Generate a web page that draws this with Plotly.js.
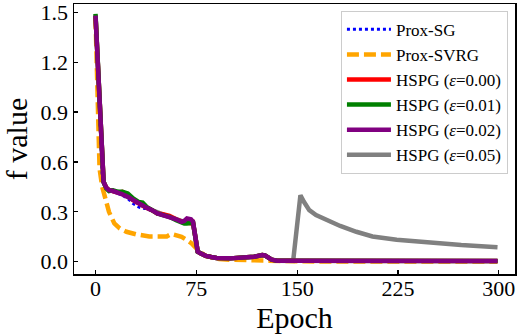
<!DOCTYPE html>
<html>
<head>
<meta charset="utf-8">
<script src="https://cdn.plot.ly/plotly-3.0.1.min.js"></script>
<style>html,body{margin:0;padding:0;background:#fff;}#chart{width:519px;height:335px;}</style>
</head>
<body>
<div id="chart"></div>
<script>
// Epochs at which values were read
var epochs = [0,5,6,8,10,13,17,20,24,28,32,35,38,42,46,50,55,60,64,66,68,71,72.5,76,78,82,86,90,100,110,118,124,126,131,135,147,200,250,299];

var proxSG   = [1.48,0.52,0.48,0.445,0.43,0.425,0.41,0.40,0.38,0.35,0.33,0.32,0.32,0.305,0.29,0.28,0.27,0.255,0.24,0.235,0.23,0.23,0.235,0.06,0.05,0.035,0.028,0.022,0.02,0.025,0.03,0.04,0.038,0.012,0.006,0.005,0.004,0.004,0.004];
var hspg000  = [1.48,0.52,0.48,0.445,0.43,0.425,0.415,0.42,0.40,0.37,0.35,0.34,0.325,0.31,0.29,0.285,0.275,0.255,0.24,0.235,0.235,0.23,0.235,0.06,0.05,0.035,0.028,0.022,0.02,0.025,0.03,0.04,0.038,0.012,0.006,0.005,0.004,0.004,0.004];
var hspg001  = [1.49,0.52,0.48,0.44,0.425,0.43,0.42,0.42,0.41,0.38,0.36,0.355,0.33,0.31,0.29,0.28,0.27,0.25,0.235,0.23,0.23,0.23,0.235,0.06,0.05,0.035,0.028,0.022,0.02,0.025,0.03,0.04,0.038,0.012,0.006,0.005,0.004,0.004,0.004];
var hspg002  = [1.48,0.52,0.48,0.445,0.43,0.425,0.415,0.405,0.39,0.37,0.35,0.34,0.325,0.31,0.29,0.28,0.27,0.255,0.24,0.245,0.26,0.255,0.24,0.06,0.05,0.035,0.028,0.022,0.02,0.025,0.03,0.04,0.038,0.012,0.006,0.005,0.004,0.004,0.004];

var svrgEpochs = [0,3,5,8,10,14,18,23,30,40,50,53,56.5,60,64,68,71.5,75,77.5,82,87,92,100,110,120,125,130,140,150,200,250,299];
var proxSVRG   = [1.47,0.56,0.45,0.36,0.30,0.23,0.20,0.18,0.165,0.152,0.148,0.152,0.167,0.16,0.15,0.13,0.11,0.08,0.06,0.035,0.022,0.016,0.012,0.01,0.009,0.008,0.004,0.002,0.002,0.001,0.001,0.001];

var grayEpochs = [0,5,6,8,10,13,17,20,24,28,32,35,38,42,46,50,55,60,64,66,68,71,72.5,76,78,82,86,90,100,110,118,124,126,131,135,147,152.4,155,159,164,169,182,194,206,224,247,272,299];
var hspg005    = [1.48,0.52,0.48,0.445,0.43,0.425,0.415,0.41,0.39,0.37,0.35,0.34,0.325,0.31,0.295,0.285,0.27,0.255,0.24,0.24,0.25,0.25,0.24,0.06,0.05,0.035,0.028,0.022,0.02,0.025,0.03,0.04,0.038,0.012,0.006,0.005,0.40,0.36,0.31,0.28,0.26,0.215,0.18,0.152,0.132,0.114,0.10,0.087];

var names = ['Prox-SG','Prox-SVRG','HSPG (<i>ε</i>=0.00)','HSPG (<i>ε</i>=0.01)','HSPG (<i>ε</i>=0.02)','HSPG (<i>ε</i>=0.05)'];

var traces = [
  {x: grayEpochs, y: hspg005, name: names[5], legendrank: 6, mode: 'lines', line: {color: '#808080', width: 4.5}},
  {x: svrgEpochs, y: proxSVRG, name: names[1], legendrank: 2, mode: 'lines', line: {color: '#FFA500', width: 4.5, dash: '12px,5px'}},
  {x: epochs, y: proxSG, name: names[0], legendrank: 1, mode: 'lines', line: {color: '#0000FF', width: 3, dash: '3px,3px'}},
  {x: epochs, y: hspg000, name: names[2], legendrank: 3, mode: 'lines', line: {color: '#FF0000', width: 4.5}},
  {x: epochs, y: hspg001, name: names[3], legendrank: 4, mode: 'lines', line: {color: '#008000', width: 4.5}},
  {x: epochs, y: hspg002, name: names[4], legendrank: 5, mode: 'lines', line: {color: '#800080', width: 4.5}}
];

var serif = 'Liberation Serif, Times New Roman, serif';
var layout = {
  width: 519, height: 335,
  margin: {l: 74, r: 4, t: 4, b: 61},
  paper_bgcolor: '#fff', plot_bgcolor: '#fff',
  font: {family: serif, color: '#000'},
  showlegend: true,
  legend: {
    x: 0.984, y: 0.975, xanchor: 'right', yanchor: 'top',
    bgcolor: '#fff', bordercolor: '#cccccc', borderwidth: 1,
    font: {family: serif, size: 17, color: '#000'},
    itemwidth: 44,
    tracegroupgap: 0
  },
  xaxis: {
    range: [-16, 312],
    tickvals: [0, 75, 150, 225, 300],
    ticks: 'inside', ticklen: 4, tickwidth: 1.2, tickcolor: '#000',
    showline: true, mirror: true, linecolor: '#000', linewidth: 1.5,
    showgrid: false, zeroline: false,
    ticklabelposition: 'outside',
    ticklabelstandoff: -6,
    tickfont: {family: serif, size: 22},
    title: {text: 'Epoch', font: {family: serif, size: 30}, standoff: 0}
  },
  yaxis: {
    range: [-0.074, 1.55],
    tickvals: [0, 0.3, 0.6, 0.9, 1.2, 1.5],
    ticktext: ['0.0','0.3','0.6','0.9','1.2','1.5'],
    ticks: 'inside', ticklen: 4, tickwidth: 1.2, tickcolor: '#000',
    showline: true, mirror: true, linecolor: '#000', linewidth: 1.5,
    showgrid: false, zeroline: false,
    tickfont: {family: serif, size: 22},
    title: {text: 'f value', font: {family: serif, size: 30}, standoff: 6}
  }
};

Plotly.newPlot('chart', traces, layout, {displayModeBar: false, staticPlot: true});
</script>
</body>
</html>
